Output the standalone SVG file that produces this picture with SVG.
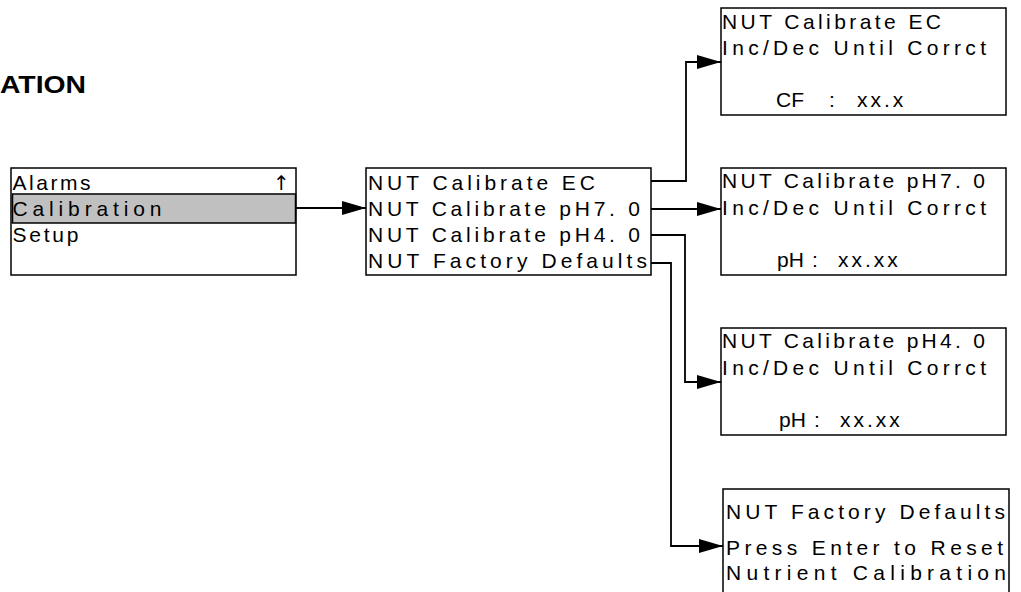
<svg xmlns="http://www.w3.org/2000/svg" width="1021" height="592" viewBox="0 0 1021 592">
<style>
.box{fill:#fff;stroke:#000;stroke-width:1.5}
.t{font-family:"Liberation Sans",Arial,sans-serif;font-size:21px;fill:#000}
.ttl{font-family:"Liberation Sans",Arial,sans-serif;font-size:24px;font-weight:bold;fill:#000}
.c{fill:none;stroke:#000;stroke-width:1.8}
</style>
<defs>
<marker id="ah" markerUnits="userSpaceOnUse" markerWidth="24" markerHeight="14" refX="24" refY="7" orient="auto">
<path d="M0,0 L24,7 L0,14 Z" fill="#000"/>
</marker>
</defs>
<rect width="1021" height="592" fill="#fff"/>
<text class="ttl" x="0" y="93" textLength="86" lengthAdjust="spacingAndGlyphs">ATION</text>

<g id="menu">
<rect class="box" x="11" y="168" width="285" height="107"/>
<rect x="12.5" y="194" width="283" height="29" fill="#c0c0c0" stroke="#000" stroke-width="1.5"/>
<text class="t" x="12.5" y="190" textLength="78" lengthAdjust="spacing">Alarms</text>
<text x="273" y="190" style="font-family:'DejaVu Sans',sans-serif;font-size:20px;fill:#000">↑</text>
<text class="t" x="12.5" y="216" textLength="149" lengthAdjust="spacing">Calibration</text>
<text class="t" x="12.5" y="242" textLength="66" lengthAdjust="spacing">Setup</text>
</g>

<g id="nut-menu">
<rect class="box" x="366" y="168" width="285" height="107"/>
<text class="t" x="368" y="190" textLength="227" lengthAdjust="spacing">NUT Calibrate EC</text>
<text class="t" x="368" y="216" textLength="272" lengthAdjust="spacing">NUT Calibrate pH7. 0</text>
<text class="t" x="368" y="242" textLength="272" lengthAdjust="spacing">NUT Calibrate pH4. 0</text>
<text class="t" x="368" y="268" textLength="279" lengthAdjust="spacing">NUT Factory Defaults</text>
</g>

<g id="cal-ec">
<rect class="box" x="721" y="8" width="285" height="107"/>
<text class="t" x="722" y="29" textLength="219" lengthAdjust="spacing">NUT Calibrate EC</text>
<text class="t" x="722" y="55" textLength="264" lengthAdjust="spacing">Inc/Dec Until Corrct</text>
<text class="t" x="776" y="107">CF <tspan x="829">:</tspan> <tspan x="857" letter-spacing="3">xx.x</tspan></text>
</g>

<g id="cal-ph7">
<rect class="box" x="721" y="168" width="285" height="107"/>
<text class="t" x="722" y="188" textLength="263" lengthAdjust="spacing">NUT Calibrate pH7. 0</text>
<text class="t" x="722" y="215" textLength="264" lengthAdjust="spacing">Inc/Dec Until Corrct</text>
<text class="t" x="777" y="267">pH <tspan x="812">:</tspan> <tspan x="838" letter-spacing="3">xx.xx</tspan></text>
</g>

<g id="cal-ph4">
<rect class="box" x="721" y="328" width="285" height="107"/>
<text class="t" x="722" y="348" textLength="263" lengthAdjust="spacing">NUT Calibrate pH4. 0</text>
<text class="t" x="722" y="375" textLength="264" lengthAdjust="spacing">Inc/Dec Until Corrct</text>
<text class="t" x="779" y="427">pH <tspan x="814">:</tspan> <tspan x="840" letter-spacing="3">xx.xx</tspan></text>
</g>

<g id="factory">
<rect class="box" x="723" y="489" width="286" height="120"/>
<text class="t" x="726" y="519" textLength="279" lengthAdjust="spacing">NUT Factory Defaults</text>
<text class="t" x="726" y="555" textLength="277" lengthAdjust="spacing">Press Enter to Reset</text>
<text class="t" x="726" y="580" textLength="280" lengthAdjust="spacing">Nutrient Calibration</text>
</g>

<g id="connectors">
<path class="c" d="M296,208 H366" marker-end="url(#ah)"/>
<path class="c" d="M651,181 H686 V62 H721" marker-end="url(#ah)"/>
<path class="c" d="M651,209 H721" marker-end="url(#ah)"/>
<path class="c" d="M651,235 H685 V382 H721" marker-end="url(#ah)"/>
<path class="c" d="M651,263 H671 V546 H723" marker-end="url(#ah)"/>
</g>
</svg>
